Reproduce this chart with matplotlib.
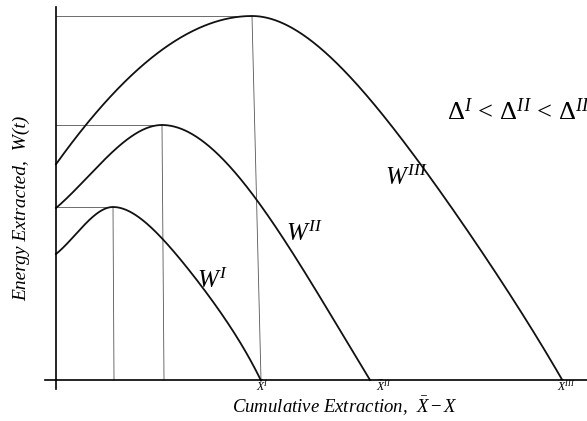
import numpy as np
import matplotlib
matplotlib.use("Agg")
import matplotlib.pyplot as plt

plt.rcParams['font.family'] = ['Liberation Serif', 'DejaVu Serif']
plt.rcParams['mathtext.fontset'] = 'custom'
plt.rcParams['mathtext.rm'] = 'Liberation Serif'
plt.rcParams['mathtext.it'] = 'Liberation Serif:italic'
plt.rcParams['mathtext.bf'] = 'Liberation Serif:bold'

# ---- data (arbitrary units) ----
w1_x = [0, 21, 41, 57, 104, 144, 174, 205]
w1_y = [126, 147, 167, 173, 140, 100, 51, 0]

w2_x = [0, 27, 61, 87, 106, 144, 177, 201, 241, 314]
w2_y = [172, 198, 233, 248, 255, 240, 210, 180, 120, 0]

w3_x = [0, 32, 94, 144, 196, 227, 261, 294, 327, 361, 391, 411, 444, 477, 506]
w3_y = [217, 255, 323, 353, 364, 358, 338, 303, 263, 220, 180, 150, 100, 50, 0]

peak_x = [57, 106, 196]
peak_y = [173, 255, 364]
drop_bottom_x = [58, 108, 205]

curve_labels = [r"$W^{\mathit{I}}$", r"$W^{\mathit{II}}$", r"$W^{\mathit{III}}$"]
xbar_labels = [r"$\bar{X}^{\mathit{I}}$", r"$\bar{X}^{\mathit{II}}$", r"$\bar{X}^{\mathit{III}}$"]
xbar_pos = [206, 328, 510]


def smooth_curve(x, y, px, py, n=300):
    """Fit each side of the peak with a smooth polynomial through the read points."""
    x = np.asarray(x, float); y = np.asarray(y, float)
    left = x <= px
    right = x >= px
    xl = np.linspace(x[0], px, n)
    xr = np.linspace(px, x[-1], n)

    def fit(xs, ys, deg):
        t = xs - px
        A = np.column_stack([t**k for k in range(2, deg + 1)])
        coef, *_ = np.linalg.lstsq(A, ys - py, rcond=None)
        return coef

    cl = fit(x[left], y[left], 3)
    cr = fit(x[right], y[right], 4)

    def ev(xs, c):
        t = xs - px
        return py + sum(ci * t**(k + 2) for k, ci in enumerate(c))
    return np.concatenate([xl, xr]), np.concatenate([ev(xl, cl), ev(xr, cr)])


fig = plt.figure(figsize=(5.87, 4.21), dpi=100)
ax = fig.add_axes([0, 0, 1, 1])
ax.set_xlim(-56, 531)
ax.set_ylim(-41, 380)

for spine in ['top', 'right']:
    ax.spines[spine].set_visible(False)
ax.spines['left'].set_position(('data', 0))
ax.spines['bottom'].set_position(('data', 0))
ax.spines['left'].set_bounds(-9, 373)
ax.spines['bottom'].set_bounds(-11, 531)
ax.spines['left'].set_linewidth(1.2)
ax.spines['bottom'].set_linewidth(1.2)
ax.set_xticks([]); ax.set_yticks([])

# guide lines
for px, py, bx in zip(peak_x, peak_y, drop_bottom_x):
    ax.plot([0, px], [py, py], color='#555555', lw=0.6, zorder=1)
    ax.plot([px, bx], [py, 0], color='#555555', lw=0.6, zorder=1)

for xs_, ys_, px, py in zip([w1_x, w2_x, w3_x], [w1_y, w2_y, w3_y], peak_x, peak_y):
    xx, yy = smooth_curve(xs_, ys_, px, py)
    ax.plot(xx, yy, color='#111111', lw=1.3, zorder=2)

label_pos = [(157, 99), (248, 146), (350, 202)]
for lab, (lx, ly) in zip(curve_labels, label_pos):
    ax.text(lx, ly, lab, fontsize=18, ha='center', va='center')

ax.text(391, 260, r"$\Delta^{\mathit{I}}\,<\,\Delta^{\mathit{II}}\,<\,\Delta^{\mathit{III}}$",
        fontsize=19, ha='left', va='baseline', clip_on=True)

for lab, xp in zip(xbar_labels, xbar_pos):
    ax.text(xp, -6.5, lab, fontsize=8.5, ha='center', va='center')

ax.text(289, -26, r"Cumulative Extraction,  $\bar{X} - X$", fontsize=13.5,
        style='italic', ha='center', va='center')
ax.text(-34, 172, "Energy Extracted,  W(t)", fontsize=14, style='italic',
        rotation=90, ha='center', va='center')

fig.savefig("out.png", dpi=100)
